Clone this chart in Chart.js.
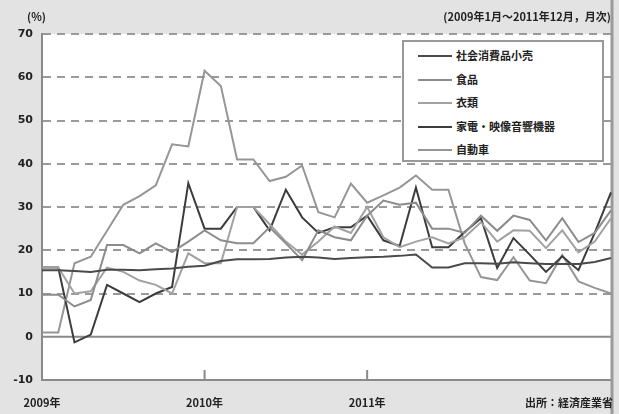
<!DOCTYPE html>
<html>
<head>
<meta charset="utf-8">
<script src="https://cdn.jsdelivr.net/npm/chart.js@4.4.0/dist/chart.umd.min.js"></script>
<style>
  body { margin: 0; background: #e3e3e3; font-family: "Noto Sans CJK JP", "DejaVu Sans", sans-serif; }
  #wrap { position: relative; width: 619px; height: 414px; overflow: hidden; }
  #wrap canvas { position: absolute; left: 0; top: 0; }
  .txt { position: absolute; color: #222; font-size: 11px; font-weight: bold; white-space: nowrap; }
  #legend { position: absolute; left: 402px; top: 40px; width: 198px; height: 118px; background: #fff; border: 2px solid #999; }
  .row { position: absolute; left: 0; height: 16px; font-size: 11px; font-weight: bold; color: #222; white-space: nowrap; }
  .row span.ln { position: absolute; left: 14px; top: 8px; width: 34px; height: 2px; }
  .row span.lb { position: absolute; left: 52px; top: 0; line-height: 16px; }
</style>
</head>
<body>
<div id="wrap">
  <canvas id="c" width="619" height="414"></canvas>
  <div class="txt" style="left:27px; top:8px;">(%)</div>
  <div class="txt" style="right:8px; top:8px;">(2009年1月～2011年12月，月次)</div>
  <div id="legend"></div>
  <div class="txt" style="right:6px; top:394px;">出所：経済産業省</div>
</div>
<script>
// 2009年1月 ～ 2011年12月 (月次)
const months = [];
for (let y = 2009; y <= 2011; y++) {
  for (let m = 1; m <= 12; m++) months.push(y + "年" + m + "月");
}
const yearLabels = { 0: "2009年", 10: "2010年", 20: "2011年" };

const seriesNames = ["社会消費品小売", "食品", "衣類", "家電・映像音響機器", "自動車"];
const seriesColors = ["#4a4a4a", "#8c8c8c", "#a2a2a2", "#3c3c3c", "#969696"];

const retailTotal = [15.4, 15.4, 15.2, 15.0, 15.5, 15.5, 15.4, 15.6, 15.8, 16.2, 16.4, 17.5,
  17.9, 17.9, 18.0, 18.3, 18.5, 18.3, 18.0, 18.2, 18.4, 18.5, 18.7, 19.0,
  16.0, 16.0, 17.0, 17.0, 16.9, 17.2, 17.0, 16.8, 16.8, 16.8, 17.3, 18.2];
const food = [9.7, 9.7, 7.0, 8.5, 21.2, 21.2, 19.3, 21.6, 19.6, 22.0, 24.6, 22.3,
  21.6, 21.6, 25.3, 21.6, 17.7, 24.6, 23.0, 22.3, 28.0, 31.5, 30.5, 31.0,
  25.0, 25.0, 24.0, 28.0, 24.5, 28.0, 27.0, 22.3, 27.4, 21.9, 24.0, 29.2];
const clothing = [16.0, 16.0, 10.0, 10.5, 16.0, 15.0, 13.0, 12.0, 10.0, 19.3, 17.0, 17.0,
  30.0, 30.0, 26.0, 22.0, 19.0, 22.0, 25.5, 24.0, 30.0, 23.0, 20.7, 22.0,
  23.0, 21.6, 23.0, 26.5, 22.0, 24.6, 24.5, 20.5, 24.6, 19.5, 22.0, 27.4];
const appliances = [16.0, 16.0, -1.3, 0.5, 12.0, 10.0, 8.0, 10.0, 11.5, 35.5, 25.0, 25.0,
  30.0, 30.0, 24.6, 34.0, 27.6, 24.0, 25.3, 25.3, 28.0, 22.3, 21.0, 34.5,
  20.7, 20.7, 24.2, 27.4, 15.9, 22.8, 19.0, 15.0, 18.6, 15.4, 24.0, 33.4];
const autos = [1.0, 1.0, 17.0, 18.5, 24.5, 30.5, 32.5, 35.0, 44.5, 44.0, 61.5, 58.0,
  41.0, 41.0, 36.0, 37.0, 39.6, 28.8, 27.6, 35.4, 31.0, 32.7, 34.5, 37.3,
  34.0, 34.0, 21.6, 13.8, 13.1, 18.4, 13.0, 12.4, 18.9, 12.8, 11.3, 10.0];

const allSeries = [retailTotal, food, clothing, appliances, autos];

// legend in html
const legendDiv = document.getElementById("legend");
seriesNames.forEach((name, i) => {
  const row = document.createElement("div");
  row.className = "row";
  row.style.top = (5 + i * 23.5) + "px";
  row.innerHTML = `<span class="ln" style="background:${seriesColors[i]}"></span><span class="lb">${name}</span>`;
  legendDiv.appendChild(row);
});

const plotBg = {
  id: "plotBg",
  beforeDraw(chart) {
    const { ctx, chartArea: a } = chart;
    ctx.save();
    ctx.fillStyle = "#fff";
    ctx.fillRect(a.left, a.top, a.right - a.left, a.bottom - a.top);
    ctx.restore();
  },
  beforeDatasetsDraw(chart) {
    const { ctx, chartArea: a, scales } = chart;
    ctx.save();
    ctx.strokeStyle = "#8a8a8a";
    ctx.lineWidth = 2;
    // zero line
    const y0 = scales.y.getPixelForValue(0);
    ctx.beginPath();
    ctx.moveTo(a.left, y0);
    ctx.lineTo(a.right, y0);
    ctx.stroke();
    // right border
    ctx.strokeStyle = "#9a9a9a";
    ctx.lineWidth = 3;
    ctx.beginPath();
    ctx.moveTo(a.right + 1, 0);
    ctx.lineTo(a.right + 1, chart.height);
    ctx.stroke();
    // year tick marks inside the axis
    ctx.strokeStyle = "#8a8a8a";
    ctx.lineWidth = 2;
    [10, 20].forEach((i) => {
      const x = scales.x.getPixelForValue(i);
      ctx.beginPath();
      ctx.moveTo(x, a.bottom);
      ctx.lineTo(x, a.bottom - 10);
      ctx.stroke();
    });
    ctx.restore();
  }
};

new Chart(document.getElementById("c"), {
  type: "line",
  data: {
    labels: months,
    datasets: allSeries.map((d, i) => ({
      label: seriesNames[i],
      data: d,
      borderColor: seriesColors[i],
      borderWidth: 2,
      pointRadius: 0,
      tension: 0,
      fill: false
    }))
  },
  options: {
    responsive: false,
    animation: false,
    layout: { padding: { top: 34, right: 6, left: 0, bottom: 0 } },
    plugins: { legend: { display: false }, tooltip: { enabled: false } },
    scales: {
      x: {
        type: "category",
        offset: false,
        grid: { display: false },
        border: { display: true, color: "#8a8a8a", width: 2 },
        ticks: {
          autoSkip: false,
          maxRotation: 0,
          padding: 8,
          color: "#222",
          font: { family: "Noto Sans CJK JP", size: 11, weight: "bold" },
          callback: (v, i) => yearLabels[i] || ""
        },
        afterFit: (s) => { s.height = 34; }
      },
      y: {
        min: -10,
        max: 70,
        ticks: {
          stepSize: 10,
          padding: 9,
          color: "#222",
          font: { family: "DejaVu Sans", size: 11, weight: "bold" }
        },
        grid: {
          drawTicks: false,
          lineWidth: 2,
          color: (c) => (c.tick && (c.tick.value === 0 || c.tick.value === -10)) ? "rgba(0,0,0,0)" : "#9a9a9a"
        },
        border: { display: true, color: "#8a8a8a", width: 2, dash: [8, 6] },
        afterFit: (s) => { s.width = 42; }
      }
    }
  },
  plugins: [plotBg]
});
</script>
</body>
</html>
